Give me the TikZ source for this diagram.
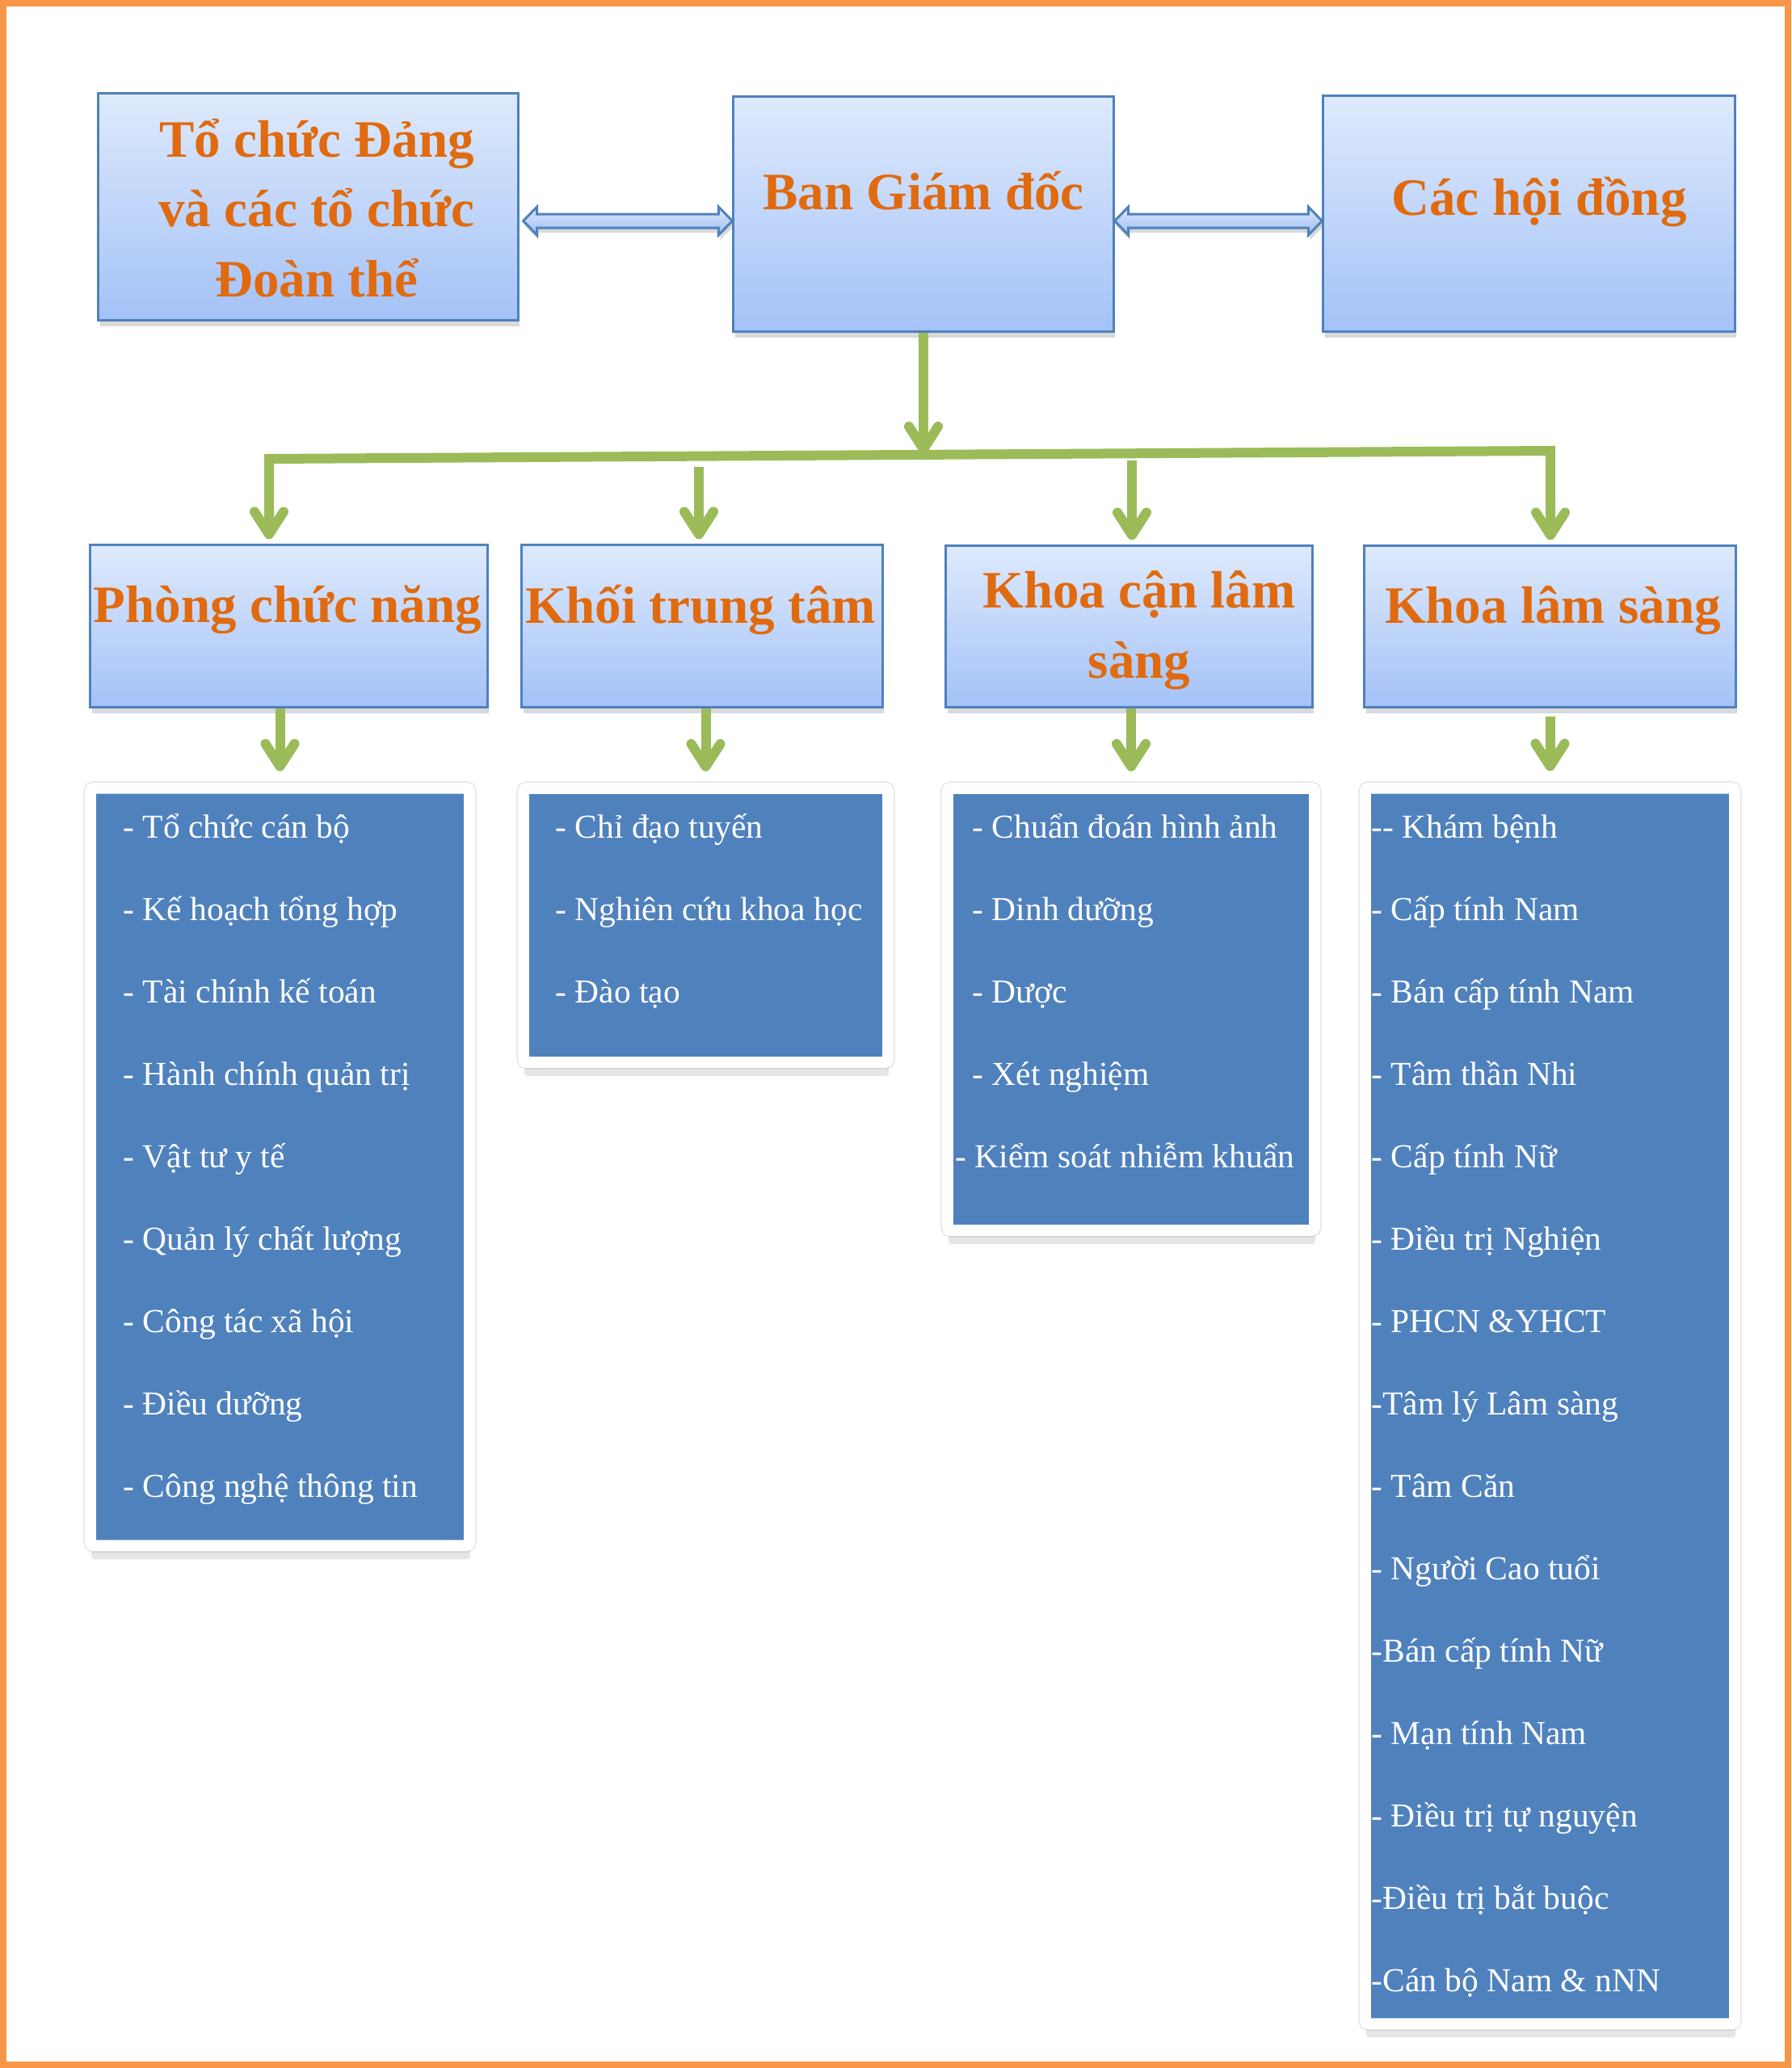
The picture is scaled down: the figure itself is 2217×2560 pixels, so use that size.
\documentclass[tikz,border=0pt]{standalone}
\usepackage{fontspec}
\setmainfont{Liberation Serif}
\usetikzlibrary{arrows.meta,calc,shadows}

\definecolor{boxline}{RGB}{79,129,189}
\definecolor{boxtop}{RGB}{222,234,252}
\definecolor{boxbot}{RGB}{164,194,247}
\definecolor{panelblue}{RGB}{79,129,189}
\definecolor{arrowgreen}{RGB}{155,187,89}
\definecolor{titleorange}{RGB}{224,106,16}
\definecolor{frameorange}{RGB}{247,150,70}

\tikzset{
	titlebox/.style={draw=boxline, line width=0.03cm, top color=boxtop, bottom color=boxbot, inner sep=0,
		drop shadow={shadow xshift=0.02cm, shadow yshift=-0.08cm, opacity=0.3}},
	titletext/.style={font=\bfseries\fontsize{18.5}{24.5}\selectfont, text=titleorange, align=center, inner sep=0, anchor=base},
	panel/.style={draw=white, line width=0.14cm, fill=panelblue, rounded corners=0.04cm, inner sep=0,
		preaction={draw=black!10, line width=0.17cm},
		drop shadow={shadow xshift=0.01cm, shadow yshift=-0.17cm, opacity=0.2}},
	itemtext/.style={font=\fontsize{11.8}{14}\selectfont, text=white, anchor=base west, inner sep=0},
	greenarrow/.style={draw=arrowgreen, line width=0.12cm, -{Straight Barb[round,length=0.28cm,width=0.36cm]}},
	dblarrow/.style={draw=boxline, line width=0.03cm, top color=boxtop, bottom color=boxbot!90!boxline,
		drop shadow={shadow xshift=0.02cm, shadow yshift=-0.06cm, opacity=0.3}}
}

\begin{document}
\begin{tikzpicture}[x=0.01cm, y=-0.01cm]
	\useasboundingbox (0,0) rectangle (2217,2560);
	\draw[frameorange, line width=0.08cm] (4,4) rectangle (2213,2556);

	% top row
	\node[titlebox, minimum width=5.19cm, minimum height=2.80cm] (party) at (381.5,256) {};
	\node[titlebox, minimum width=4.70cm, minimum height=2.90cm] (ban) at (1143,265) {};
	\node[titlebox, minimum width=5.09cm, minimum height=2.91cm] (hoidong) at (1892.5,264.5) {};
	\node[titletext] (party-t) at (392,367) {Tổ chức Đảng\\và các tổ chức\\Đoàn thể};
	\node[titletext] (ban-t) at (1143,259) {Ban Giám đốc};
	\node[titletext] (hoidong-t) at (1905,266) {Các hội đồng};

	\coordinate (arrowrow) at (0,273.5);
	\path[dblarrow] ($(party.east |- arrowrow)+(5,0)$) -- ++(17,-17.5) -- ++(0,9) -- ($(ban.west |- arrowrow)+(-17,-8.5)$) -- ++(0,-9)
		-- (ban.west |- arrowrow) -- ++(-17,17.5) -- ++(0,-9) -- ($(party.east |- arrowrow)+(22,8.5)$) -- ++(0,9) -- cycle;
	\path[dblarrow] (ban.east |- arrowrow) -- ++(17,-17.5) -- ++(0,9) -- ($(hoidong.west |- arrowrow)+(-17,-8.5)$) -- ++(0,-9)
		-- (hoidong.west |- arrowrow) -- ++(-17,17.5) -- ++(0,-9) -- ($(ban.east |- arrowrow)+(17,8.5)$) -- ++(0,9) -- cycle;

	% second row
	\node[titlebox, minimum width=4.91cm, minimum height=2.00cm] (phong) at (357.5,775) {};
	\node[titlebox, minimum width=4.46cm, minimum height=2.00cm] (khoi) at (869,775) {};
	\node[titlebox, minimum width=4.53cm, minimum height=1.99cm] (can) at (1397.5,775.5) {};
	\node[titlebox, minimum width=4.59cm, minimum height=1.99cm] (lam) at (1918.5,775.5) {};
	\node[titletext] (phong-t) at (356,770) {Phòng chức năng};
	\node[titletext] (khoi-t) at (867,771) {Khối trung tâm};
	\node[titletext] (can-t) at (1410,839) {Khoa cận lâm\\sàng};
	\node[titletext] (lam-t) at (1922,771) {Khoa lâm sàng};

	\coordinate (busL) at (333,568);
	\coordinate (busR) at (1919,558);
	\draw[greenarrow] (ban.south) -- (ban.south |- 0,562);
	\draw[greenarrow, {Straight Barb[round,length=0.28cm,width=0.36cm]}-{Straight Barb[round,length=0.28cm,width=0.36cm]}, shorten <=0.06cm, shorten >=0.06cm]
		(busR |- lam.north) -- (busR) -- (busL) -- (busL |- phong.north);
	\draw[greenarrow, shorten >=0.06cm] (865,578) -- (865,0 |- khoi.north);
	\draw[greenarrow, shorten >=0.06cm] (1401,570) -- (1401,0 |- can.north);

	% lists
	\node[panel, minimum width=4.69cm, minimum height=9.37cm] (phonglist) at (346.5,1444.5) {};
	\node[panel, minimum width=4.51cm, minimum height=3.39cm] (khoilist) at (873.5,1145.5) {};
	\node[panel, minimum width=4.54cm, minimum height=5.47cm] (canlist) at (1400,1249.5) {};
	\node[panel, minimum width=4.57cm, minimum height=15.29cm] (lamlist) at (1918.5,1740.5) {};

	\draw[greenarrow, shorten >=0.14cm] (phonglist.north |- phong.south) -- (phonglist.north);
	\draw[greenarrow, shorten >=0.14cm] (khoilist.north |- khoi.south) -- (khoilist.north);
	\draw[greenarrow, shorten >=0.14cm] (canlist.north |- can.south) -- (canlist.north);
	\draw[greenarrow, shorten <=0.1cm, shorten >=0.14cm] (lamlist.north |- lam.south) -- (lamlist.north);

	\foreach \txt [count=\i from 0] in {- Tổ chức cán bộ, - Kế hoạch tổng hợp, - Tài chính kế toán, - Hành chính quản trị,
		- Vật tư y tế, - Quản lý chất lượng, - Công tác xã hội, - Điều dưỡng, - Công nghệ thông tin}
		\node[itemtext] (phong-\i) at (152,{1037+102*\i}) {\txt};
	\foreach \txt [count=\i from 0] in {- Chỉ đạo tuyến, - Nghiên cứu khoa học, - Đào tạo}
		\node[itemtext] (khoi-\i) at (687,{1037+102*\i}) {\txt};
	\foreach \txt [count=\i from 0] in {- Chuẩn đoán hình ảnh, - Dinh dưỡng, - Dược, - Xét nghiệm}
		\node[itemtext] (can-\i) at (1203,{1037+102*\i}) {\txt};
	\node[itemtext] (can-4) at (1182,1445) {- Kiểm soát nhiễm khuẩn};
	\foreach \txt [count=\i from 0] in {-{}- Khám bệnh, - Cấp tính Nam, - Bán cấp tính Nam, - Tâm thần Nhi, - Cấp tính Nữ,
		- Điều trị Nghiện, - PHCN \&YHCT, -Tâm lý Lâm sàng, - Tâm Căn, - Người Cao tuổi, -Bán cấp tính Nữ,
		- Mạn tính Nam, - Điều trị tự nguyện, -Điều trị bắt buộc, -Cán bộ Nam \& nNN}
		\node[itemtext] (lam-\i) at (1697,{1037+102*\i}) {\txt};
\end{tikzpicture}
\end{document}
